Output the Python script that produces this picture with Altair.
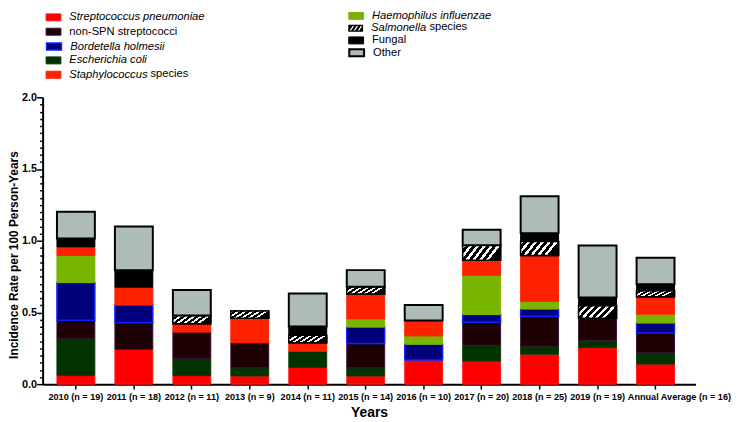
import altair as alt
import pandas as pd

# ---------------- data ----------------
years = ["2010 (n = 19)", "2011 (n = 18)", "2012 (n = 11)", "2013 (n = 9)",
         "2014 (n = 11)", "2015 (n = 14)", "2016 (n = 10)", "2017 (n = 20)",
         "2018 (n = 25)", "2019 (n = 19)", "Annual Average (n = 16)"]

categories = ["Streptococcus pneumoniae", "Escherichia coli", "non-SPN streptococci",
              "Bordetella holmesii", "Haemophilus influenzae", "Staphylococcus species",
              "Salmonella species", "Fungal", "Other"]

spn    = [0.060, 0.243, 0.060, 0.057, 0.117, 0.057, 0.168, 0.161, 0.209, 0.255, 0.140]
ecoli  = [0.257, 0.000, 0.119, 0.058, 0.113, 0.058, 0.000, 0.110, 0.055, 0.051, 0.081]
nonspn = [0.129, 0.185, 0.184, 0.173, 0.000, 0.168, 0.000, 0.161, 0.210, 0.154, 0.136]
bhol   = [0.262, 0.124, 0.000, 0.000, 0.000, 0.115, 0.110, 0.053, 0.050, 0.000, 0.069]
hinf   = [0.189, 0.000, 0.000, 0.000, 0.000, 0.057, 0.058, 0.274, 0.053, 0.000, 0.062]
staph  = [0.060, 0.124, 0.058, 0.172, 0.058, 0.173, 0.108, 0.105, 0.320, 0.000, 0.121]
salm   = [0.000, 0.000, 0.057, 0.050, 0.052, 0.051, 0.000, 0.104, 0.098, 0.087, 0.042]
fungal = [0.059, 0.119, 0.000, 0.000, 0.062, 0.000, 0.000, 0.000, 0.058, 0.058, 0.046]
other  = [0.186, 0.304, 0.179, 0.000, 0.230, 0.116, 0.108, 0.109, 0.257, 0.361, 0.184]

series = [spn, ecoli, nonspn, bhol, hinf, staph, salm, fungal, other]

rows = []
for ci, (cat, vals) in enumerate(zip(categories, series)):
    for yr, v in zip(years, vals):
        rows.append({"year": yr, "category": cat, "order": ci, "rate": v})
df = pd.DataFrame(rows)

# ---------------- styles ----------------
fills   = ["#ff0000", "#003300", "#1c0002", "#00007a", "#79b500", "#ff2200", "#000000", "#000000", "#adbbb9"]
strokes = ["#ff1a1a", "#0a3d0a", "#3a0f3a", "#1020ff", "#79b500", "#ff2200", "#000000", "#000000", "#000000"]
stroke_w = [1, 1, 1, 1.5, 1, 1, 1.5, 1, 2]
italic = [True, True, False, True, True, True, True, False, False]
suffix = [None, None, None, None, None, "species", "species", None, None]

PLOT_LEFT, PLOT_TOP = 43, 96
PLOT_W, PLOT_H = 660, 290
legend_pos = {
    "Streptococcus pneumoniae": (46, 14.7),
    "non-SPN streptococci": (46, 29.2),
    "Bordetella holmesii": (46, 43.7),
    "Escherichia coli": (46, 58.2),
    "Staphylococcus species": (46, 72.7),
    "Haemophilus influenzae": (352, 13.2),
    "Salmonella species": (352, 26.2),
    "Fungal": (352, 38.0),
    "Other": (352, 50.0),
}

RECT = "M-1,-0.47L1,-0.47L1,0.47L-1,0.47Z"
HATCH_SYM = RECT
for x0 in (-0.82, -0.27, 0.28):
    HATCH_SYM += "M{:.2f},0.3L{:.2f},0.3L{:.2f},-0.3L{:.2f},-0.3Z".format(x0, x0 + 0.2, x0 + 0.6, x0 + 0.4)

stops = []
N = 6
for k in range(N):
    a, m, b = k / N, (k + 0.45) / N, (k + 1) / N
    stops += [{"offset": a, "color": "white"}, {"offset": m, "color": "white"},
              {"offset": m, "color": "black"}, {"offset": b, "color": "black"}]
HATCH = {"gradient": "linear", "x1": 0, "y1": 0, "x2": 1, "y2": 0.3, "stops": stops}

yticks = [round(i * 0.05, 2) for i in range(41)]
major = "abs(datum.value*2 - round(datum.value*2)) < 0.001"
last = "datum.label == 'Annual Average (n = 16)'"

x_axis = alt.Axis(title="Years", labelAngle=0, labelFont="Liberation Sans",
                  labelFontSize=9.2, labelFontWeight="bold", tickSize=5, tickWidth=1.5,
                  domainWidth=2, labelPadding=4, titleFontSize=14, titleFontWeight="bold",
                  titlePadding=4, labelOverlap=False,
                  labelAlign={"condition": {"test": last, "value": "left"}, "value": "center"},
                  labelOffset={"condition": {"test": last, "value": -28}, "value": 0})
y_axis = alt.Axis(title="Incidence Rate per 100 Person-Years", values=yticks,
                  labelExpr=f"{major} ? format(datum.value, '.1f') : ''",
                  tickSize={"condition": {"test": major, "value": 6}, "value": 3},
                  tickWidth=1.5, domainWidth=2, labelFontSize=11, labelFontWeight="bold",
                  labelPadding=0, labelOverlap=False, labelFlush=False,
                  titleFontSize=12, titleFontWeight="bold", titleX=-22, titleY=159)

X = alt.X("year:N", sort=years, axis=x_axis,
          scale=alt.Scale(paddingInner=0.346, paddingOuter=0.3045, align=0.406))
Y = alt.Y("y0:Q", scale=alt.Scale(domain=[0, 2], nice=False), axis=y_axis)

base = alt.Chart(df).transform_stack(
    stack="rate", groupby=["year"], as_=["y0", "y1"],
    sort=[alt.SortField("order", order="ascending")]
).transform_filter("datum.rate > 0")


def legend_for(i):
    cat = categories[i]
    lx, ly = legend_pos[cat]
    kw = dict(orient="none", legendX=lx - PLOT_LEFT, legendY=ly - 7.5 - PLOT_TOP,
              padding=0, symbolType=HATCH_SYM if i == 6 else RECT, symbolSize=225,
              symbolStrokeColor=strokes[i], symbolStrokeWidth=0 if i == 6 else stroke_w[i],
              labelFont="Liberation Sans", labelFontSize=11.3, labelColor="black",
              labelFontStyle="italic" if italic[i] else "normal", labelOffset=8,
              labelLimit=300)
    if suffix[i]:
        kw.update(title=suffix[i], titleOrient="right", titleFont="Liberation Sans",
                  titleFontSize=11.3, titleFontWeight="normal", titleColor="black",
                  titlePadding=3, titleAnchor="middle", titleBaseline="middle",
                  labelExpr="split(datum.label, ' ')[0]")
    else:
        kw.update(title=None)
    return alt.Legend(**kw)


layers = []
for i, cat in enumerate(categories):
    layers.append(
        base.transform_filter(alt.datum.category == cat)
        .mark_bar(stroke=strokes[i], strokeWidth=stroke_w[i])
        .encode(x=X, y=Y, y2="y1:Q",
                fill=alt.Fill("category:N",
                              scale=alt.Scale(domain=[cat], range=[fills[i]]),
                              legend=legend_for(i)))
    )
    if i == 6:
        layers.append(
            base.transform_filter(alt.datum.category == cat)
            .mark_bar(fill=HATCH, stroke="black", strokeWidth=1.5)
            .encode(x=X, y=Y, y2="y1:Q")
        )

chart = alt.layer(*layers).resolve_scale(fill="independent").properties(
    width=PLOT_W, height=PLOT_H,
    autosize=alt.AutoSizeParams(type="none"),
    padding={"left": PLOT_LEFT - 8, "top": PLOT_TOP - 8,
             "right": 737 - (PLOT_LEFT - 8) - PLOT_W, "bottom": 414 - (PLOT_TOP - 8) - PLOT_H},
).configure_view(stroke=None).configure_axis(
    labelFont="Liberation Sans", titleFont="Liberation Sans", domainColor="black",
    tickColor="black", labelColor="black", titleColor="black", grid=False
)

chart.save("out.html", embed_options={"renderer": "svg", "actions": False})
